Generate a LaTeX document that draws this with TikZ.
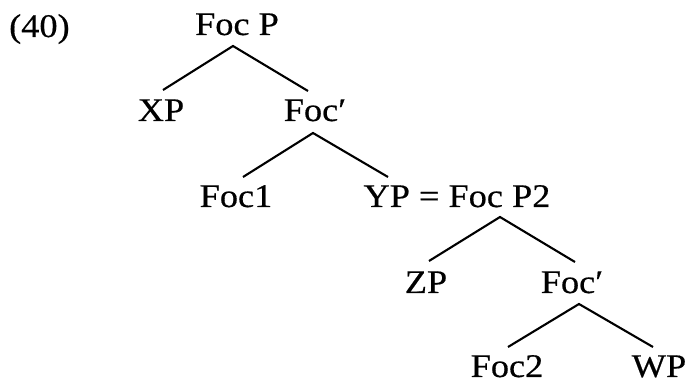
\documentclass[tikz,border=0pt]{standalone}
\usepackage{fontspec}
\setmainfont{Liberation Serif}[FakeStretch=1.1,FakeBold=0.5]
\begin{document}
\begin{tikzpicture}[x=1pt,y=-1pt,
  lab/.style={inner sep=0pt,anchor=base,font=\fontsize{33}{38}\selectfont},
  edge/.style={line width=2.1pt}]
\useasboundingbox (0,0) rectangle (686,382);
\node[lab,anchor=base west] (n40) at (9,37) {(40)};
\node[lab] (fp) at (237,35) {Foc P};
\node[lab] (xp) at (161,121) {XP};
\node[lab] (fb1) at (315,121) {Foc′};
\node[lab] (f1) at (236,207) {Foc1};
\node[lab] (yp) at (457,207) {YP = Foc P2};
\node[lab] (zp) at (426,293) {ZP};
\node[lab] (fb2) at (572,293) {Foc′};
\node[lab] (f2) at (507,377) {Foc2};
\node[lab] (wp) at (659,377) {WP};
\draw[edge] ([shift={(-69,-30)}]yp.base) -- ([shift={(-2,12)}]fb1.base) -- ([shift={(7,-30)}]f1.base);
\draw[edge] ([shift={(2,-31)}]xp.base) -- ([shift={(-4,11)}]fp.base) -- ([shift={(-7,-30)}]fb1.base);
\draw[edge] ([shift={(3,-32)}]zp.base) -- ([shift={(43,10)}]yp.base) -- ([shift={(3,-31)}]fb2.base);
\draw[edge] ([shift={(1,-30)}]f2.base) -- ([shift={(7,11)}]fb2.base) -- ([shift={(-6,-30)}]wp.base);
\end{tikzpicture}
\end{document}
